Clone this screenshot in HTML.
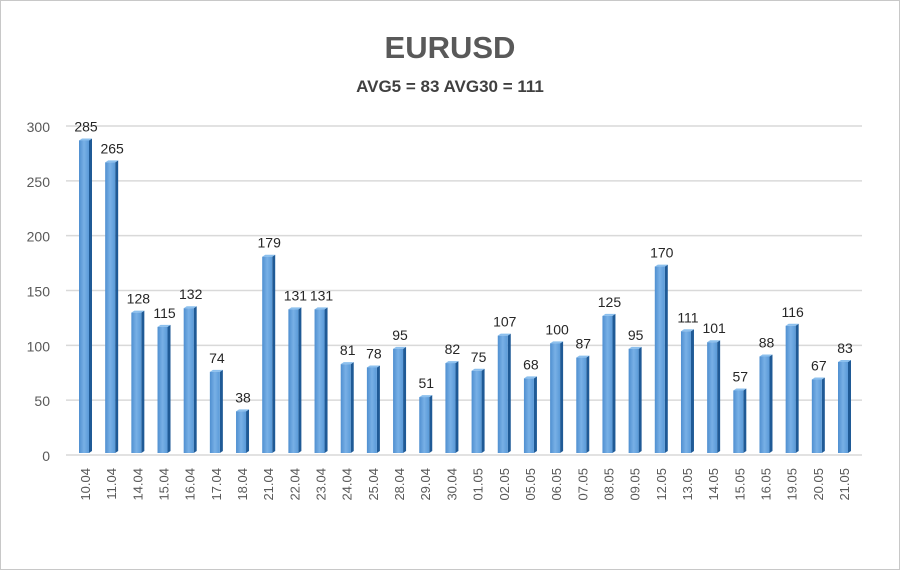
<!DOCTYPE html>
<html><head><meta charset="utf-8"><style>
html,body{margin:0;padding:0;background:#fff}
svg{display:block;font-family:"Liberation Sans",Arial,sans-serif}
</style></head><body>
<svg id="c" width="900" height="570" viewBox="0 0 900 570">
<defs>
<linearGradient id="g" x1="0" x2="1" y1="0" y2="0"><stop offset="0" stop-color="#4f8fd0"/><stop offset="0.5" stop-color="#78b0e6"/><stop offset="1" stop-color="#5a9ad8"/></linearGradient>
</defs>
<rect x="0.5" y="0.5" width="899" height="569" fill="#fff" stroke="#c8c8c8"/>
<text x="450" y="58" text-anchor="middle" font-size="31" font-weight="bold" fill="#595959">EURUSD</text>
<text x="450" y="92" text-anchor="middle" font-size="17" font-weight="bold" fill="#404040">AVG5 = 83 AVG30 = 111</text>
<g id="grid"></g><g id="bars"></g>
</svg>
<script>
const categories=["10.04","11.04","14.04","15.04","16.04","17.04","18.04","21.04","22.04","23.04","24.04","25.04","28.04","29.04","30.04","01.05","02.05","05.05","06.05","07.05","08.05","09.05","12.05","13.05","14.05","15.05","16.05","19.05","20.05","21.05"];
const values=[285,265,128,115,132,74,38,179,131,131,81,78,95,51,82,75,107,68,100,87,125,95,170,111,101,57,88,116,67,83];
const yTicks=[0,50,100,150,200,250,300];
const NS="http://www.w3.org/2000/svg";
const y0=453,yMax=300,yTop=124;
function y(v){return y0-(v/yMax)*(y0-yTop);}
function x(i){return 79+i*(838-79)/(categories.length-1);}
const grid=document.getElementById('grid'),bars=document.getElementById('bars');
function mk(t,a,p){const e=document.createElementNS(NS,t);for(const k in a)e.setAttribute(k,a[k]);p.appendChild(e);return e;}
yTicks.forEach(t=>{
 const l=mk('line',{x1:66,x2:862,y1:y(t)+2,y2:y(t)+2,stroke:'#d9d9d9','stroke-width':1.5},grid);
 
 
 const tx=mk('text',{x:50,y:y(t)+8,'text-anchor':'end','font-size':14,fill:'#595959'},grid);
 tx.textContent=t;
 
 
});
values.forEach((v,i)=>{
 const bx=x(i),by=y(v),h=y0-by;
 const g=mk('g',{},bars);
 
 
 mk('polygon',{points:`${bx+10},${by} ${bx+13},${by-2} ${bx+13},${y0-2} ${bx+10},${y0}`,fill:'#1f5a96'},g);
 mk('polygon',{points:`${bx},${by} ${bx+3},${by-2} ${bx+13},${by-2} ${bx+10},${by}`,fill:'#8cc0ee'},g);
 mk('rect',{x:bx,y:by,width:10,height:h,fill:'url(#g)'},g);
 const vl=mk('text',{x:bx+7,y:by-9,'text-anchor':'middle','font-size':14,fill:'#262626'},bars);
 vl.textContent=v;
 
 
 const cl=mk('text',{x:0,y:0,'text-anchor':'end','font-size':13,fill:'#595959',transform:`translate(${bx+11},468) rotate(-90)`},bars);
 cl.textContent=categories[i];
 
 
});
</script>
</body></html>
